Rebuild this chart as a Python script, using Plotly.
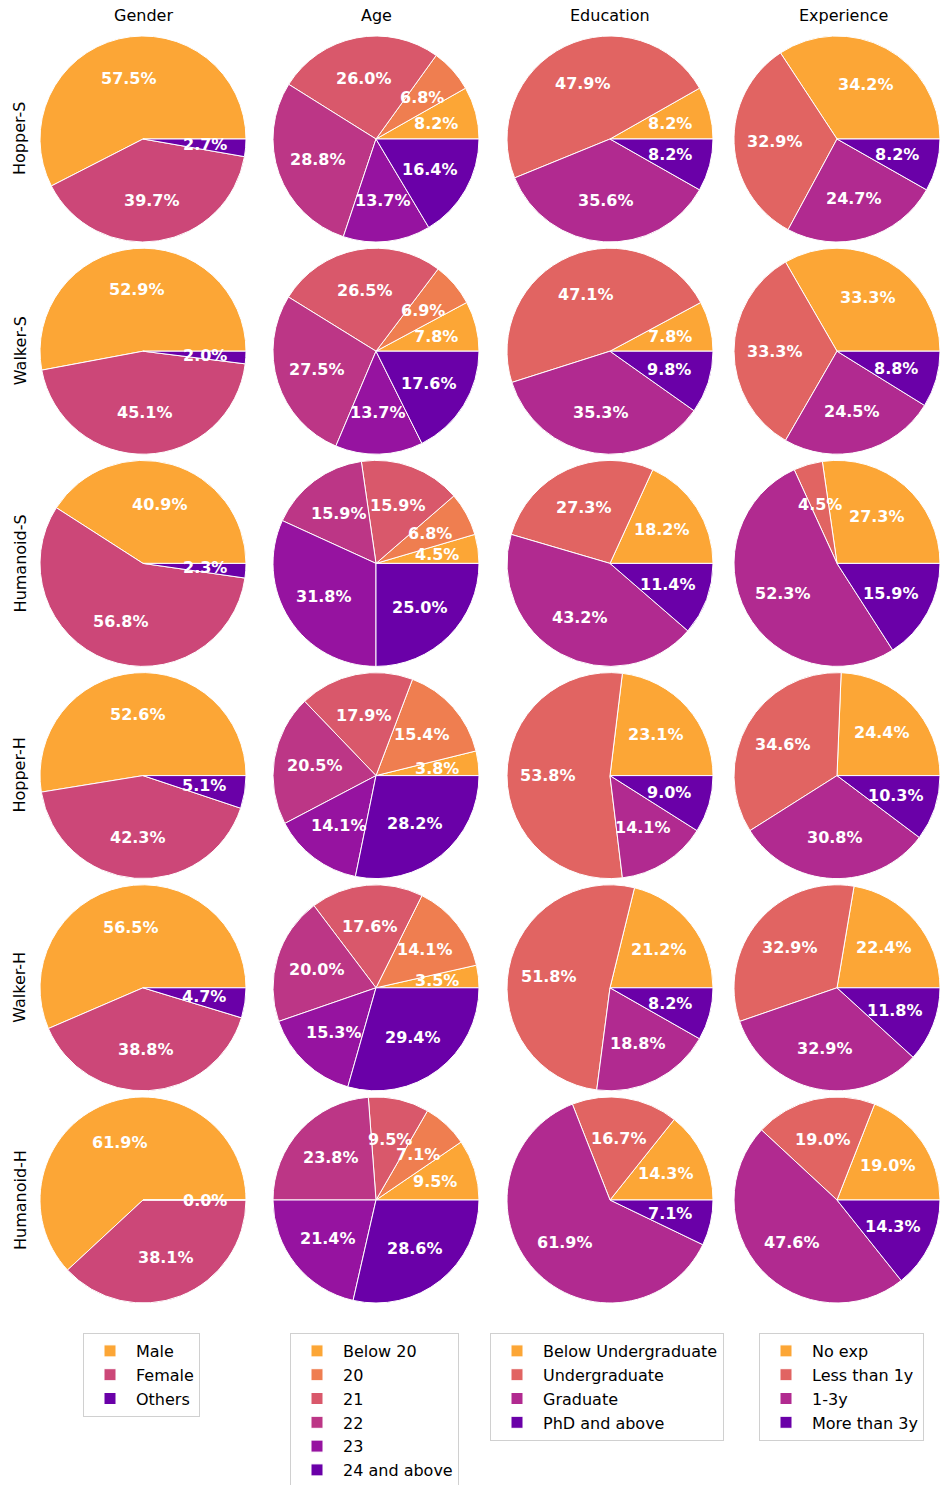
import math
import plotly.graph_objects as go

W, H = 940, 1485

rows = ["Hopper-S", "Walker-S", "Humanoid-S", "Hopper-H", "Walker-H", "Humanoid-H"]
columns = ["Gender", "Age", "Education", "Experience"]

gender_labels = ["Male", "Female", "Others"]
age_labels = ["Below 20", "20", "21", "22", "23", "24 and above"]
edu_labels = ["Below Undergraduate", "Undergraduate", "Graduate", "PhD and above"]
exp_labels = ["No exp", "Less than 1y", "1-3y", "More than 3y"]

# counts per row (participants)
gender_counts = [
    [42, 29, 2],
    [54, 46, 2],
    [18, 25, 1],
    [41, 33, 4],
    [48, 33, 4],
    [26, 16, 0],
]
age_counts = [
    [6, 5, 19, 21, 10, 12],
    [8, 7, 27, 28, 14, 18],
    [2, 3, 7, 7, 14, 11],
    [3, 12, 14, 16, 11, 22],
    [3, 12, 15, 17, 13, 25],
    [4, 3, 4, 10, 9, 12],
]
edu_counts = [
    [6, 35, 26, 6],
    [8, 48, 36, 10],
    [8, 12, 19, 5],
    [18, 42, 11, 7],
    [18, 44, 16, 7],
    [6, 7, 26, 3],
]
exp_counts = [
    [25, 24, 18, 6],
    [34, 34, 25, 9],
    [12, 2, 23, 7],
    [19, 27, 24, 8],
    [19, 28, 28, 10],
    [8, 8, 20, 6],
]

gender_colors = ["#fca636", "#cc4778", "#6a00a8"]
age_colors = ["#fca636", "#ef7e50", "#d9586b", "#bc3686", "#9613a0", "#6a00a8"]
edu_colors = ["#fca636", "#e16462", "#b12a90", "#6a00a8"]
exp_colors = ["#fca636", "#e16462", "#b12a90", "#6a00a8"]

col_data = [
    (gender_labels, gender_counts, gender_colors),
    (age_labels, age_counts, age_colors),
    (edu_labels, edu_counts, edu_colors),
    (exp_labels, exp_counts, exp_colors),
]

# layout geometry (pixels)
col_cx = [143, 376, 610, 837]
row_cy = [139, 351.2, 563.4, 775.6, 987.8, 1200]
R = 103
FONT = "DejaVu Sans"

fig = go.Figure()
annotations = []
legend_names = ["legend", "legend2", "legend3", "legend4"]

k = 0
for ri, rname in enumerate(rows):
    for ci, cname in enumerate(columns):
        k += 1
        labels, counts, colors = col_data[ci]
        vals = counts[ri]
        total = sum(vals)
        cx, cy = col_cx[ci], row_cy[ri]
        xd = [max(0, (cx - R) / W), min(1, (cx + R) / W)]
        yd = [1 - (cy + R) / H, 1 - (cy - R) / H]
        # first wedge starts at 3 o'clock and slices run counterclockwise
        rot = 90 - 360.0 * vals[0] / total
        fig.add_trace(go.Pie(
            labels=labels, values=vals, sort=False,
            direction="counterclockwise", rotation=rot,
            marker=dict(colors=colors, line=dict(color="white", width=1)),
            textinfo="none", hoverinfo="label+percent",
            domain=dict(x=xd, y=yd),
            legend=legend_names[ci],
            showlegend=(ri == 0),
        ))
        ax = "" if k == 1 else str(k)
        fig.add_trace(go.Scatter(x=[], y=[], xaxis="x" + ax, yaxis="y" + ax,
                                 showlegend=False, hoverinfo="skip"))
        fig.layout["xaxis" + ax] = dict(domain=xd, range=[-1, 1], visible=False,
                                        anchor="y" + ax, fixedrange=True)
        fig.layout["yaxis" + ax] = dict(domain=yd, range=[-1, 1], visible=False,
                                        anchor="x" + ax, fixedrange=True)
        cum = 0.0
        for v in vals:
            mid = (cum + v / 2) / total * 2 * math.pi
            cum += v
            annotations.append(dict(
                x=0.6 * math.cos(mid), y=0.6 * math.sin(mid),
                xref="x" + ax, yref="y" + ax,
                text=f"{v / total * 100:.1f}%", showarrow=False,
                xanchor="center", yanchor="middle",
                font=dict(family=FONT, size=16, color="white", weight="bold"),
            ))

for ci, cname in enumerate(columns):
    annotations.append(dict(
        x=col_cx[ci] / W if ci < 3 else 843 / W, y=1 - 16 / H, xref="paper", yref="paper",
        text=cname, showarrow=False, xanchor="center", yanchor="middle",
        font=dict(family=FONT, size=16, color="black"),
    ))
for ri, rname in enumerate(rows):
    annotations.append(dict(
        x=20 / W, y=1 - row_cy[ri] / H, xref="paper", yref="paper",
        text=rname, showarrow=False, xanchor="center", yanchor="middle",
        textangle=-90, font=dict(family=FONT, size=16, color="black"),
    ))

legend_left = [83, 290, 490, 759]
leg_common = dict(
    font=dict(family=FONT, size=16, color="black"),
    bordercolor="#d0d0d0", borderwidth=1, bgcolor="white",
    xanchor="left", yanchor="top", itemwidth=42,
    traceorder="normal",
)
layout_legends = {}
for i, ln in enumerate(legend_names):
    layout_legends[ln] = dict(x=legend_left[i] / W, y=1 - 1333 / H, **leg_common)

fig.update_layout(
    width=W, height=H,
    margin=dict(l=0, r=0, t=0, b=0, autoexpand=False),
    paper_bgcolor="white", plot_bgcolor="white",
    annotations=annotations,
    font=dict(family=FONT),
    **layout_legends,
)

fig.write_html("out.html")
